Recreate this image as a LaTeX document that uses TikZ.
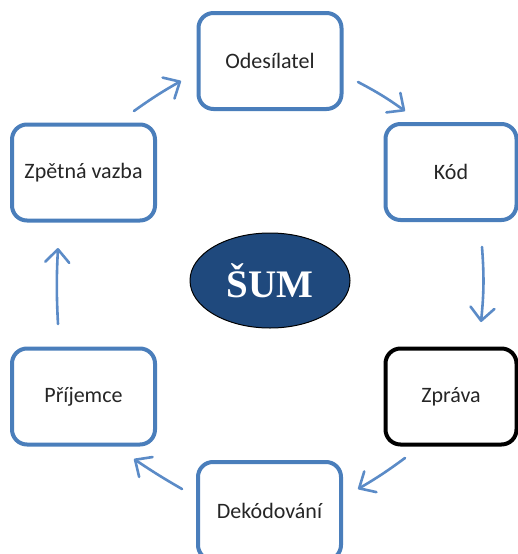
\documentclass[tikz,border=0pt]{standalone}
\usepackage{fontspec}
\setmainfont{Carlito}
\newfontfamily\timesfont{Liberation Serif}
\usetikzlibrary{arrows.meta,shapes.geometric}
\definecolor{boxblue}{HTML}{4A7EBB}
\definecolor{arrblue}{HTML}{5B8BC7}
\definecolor{noiseblue}{HTML}{1F497D}
\tikzset{
  stagebox/.style={draw=boxblue, line width=4pt, rounded corners=15pt, fill=white,
    minimum width=143pt, minimum height=96pt, inner sep=0pt,
    font=\fontsize{22}{26}\selectfont, text=black!85},
  flowarrow/.style={draw=arrblue, line width=2.6pt, line cap=round,
    -{Straight Barb[length=13pt,width=24pt,line cap=round,line join=round]}},
}
\begin{document}
\begin{tikzpicture}[x=1pt,y=-1pt]
\clip (0,0) rectangle (518,554);
\useasboundingbox (0,0) rectangle (518,554);
\node[stagebox] (ode) at (270,61) {Odesílatel};
\node[stagebox, minimum width=131pt] (kod) at (451,172) {Kód};
\node[stagebox, minimum width=131pt, draw=black] (zpr) at (451,396.5) {Zpráva};
\node[stagebox, minimum height=98pt] (dek) at (269.5,511) {Dekódování};
\node[stagebox] (pri) at (83.5,396.5) {Příjemce};
\node[stagebox] (zpe) at (83.5,172.5) {Zpětná vazba};
\node[ellipse, draw=black, line width=1pt, fill=noiseblue, minimum width=160pt, minimum height=95pt,
  inner sep=0pt, text=white, font=\timesfont\bfseries\fontsize{39}{42}\selectfont] (sum) at (270,280.5) {ŠUM};
% arrow end points
\coordinate (a1s) at (134,111);
\coordinate (a1e) at (181,81);
\coordinate (a2s) at (358,82);
\coordinate (a2e) at (405,111);
\coordinate (a3s) at (482,247);
\coordinate (a3e) at (481,322);
\coordinate (a4s) at (405,458);
\coordinate (a4e) at (358,489);
\coordinate (a5s) at (182,489);
\coordinate (a5e) at (134,459);
\coordinate (a6s) at (58,324);
\coordinate (a6e) at (58,248);
\draw[flowarrow] (a1s) to[bend left=3] (a1e);
\draw[flowarrow] (a2s) to[bend left=4] (a2e);
\draw[flowarrow] (a3s) to[bend left=5] (a3e);
\draw[flowarrow] (a4s) to[bend left=3] (a4e);
\draw[flowarrow] (a5s) to[bend left=2] (a5e);
\draw[flowarrow] (a6s) to[bend left=3] (a6e);
\end{tikzpicture}
\end{document}
